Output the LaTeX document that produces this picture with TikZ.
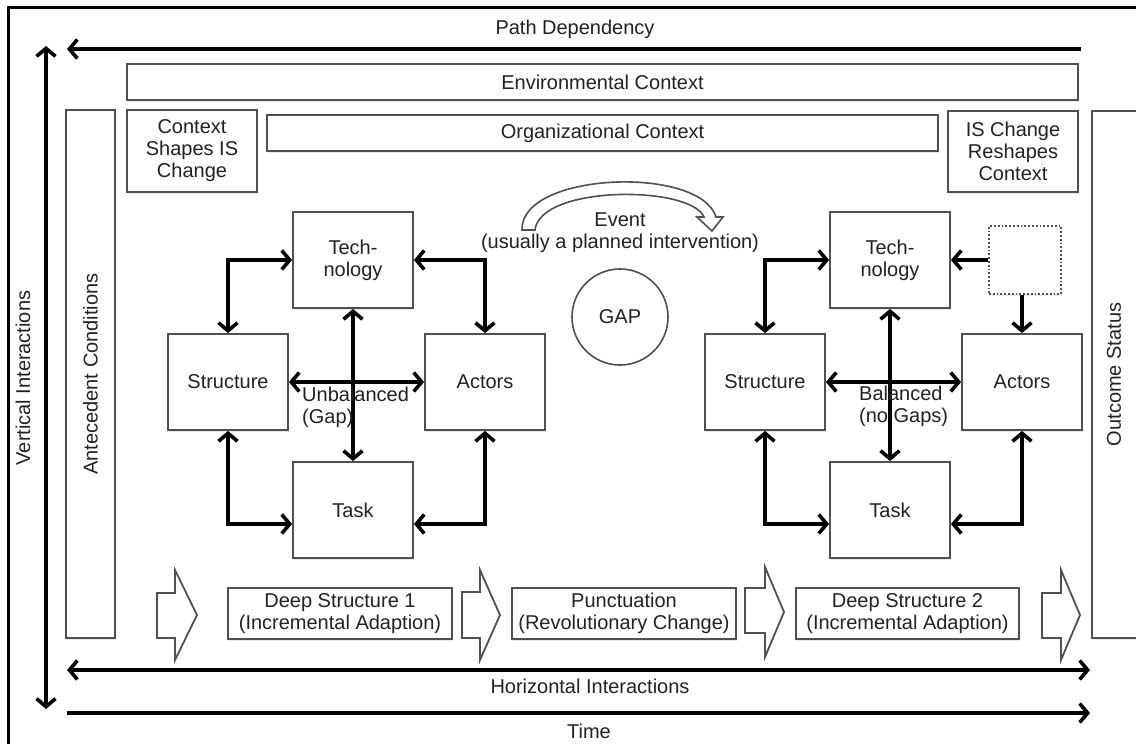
\documentclass[tikz,border=0pt]{standalone}
\usepackage{fontspec}
\setmainfont{Liberation Sans}
\usetikzlibrary{arrows.meta,shadows}
\definecolor{boxgray}{HTML}{505050}
\definecolor{txt}{HTML}{222222}
\begin{document}
\begin{tikzpicture}[x=1pt,y=-1pt,
  every node/.style={text=txt,font=\fontsize{20}{22}\selectfont},
  box/.style={draw=boxgray,line width=1.8pt,fill=white,inner sep=0pt,align=center,
     drop shadow={shadow xshift=1pt,shadow yshift=-1.5pt,opacity=0.18}},
  tip/.tip={Straight Barb[length=8pt,width=19pt]},
  conn/.style={line width=3.6pt,black,tip-tip},
  conn1/.style={line width=3.6pt,black,-tip},
  blockarrow/.style={draw=boxgray,line width=1.8pt,fill=white,line join=miter},
  lbl/.style={inner sep=0pt}]
\useasboundingbox (0,0) rectangle (1136,744);
\clip (0,0) rectangle (1136,744);
\fill[white] (0,0) rectangle (1136,744);
% frame
\draw[line width=3pt,black] (8,748) -- (8,7) -- (1140,7);

% outer arrows
\coordinate (pdR) at (1081,49);
\coordinate (pdL) at (67,49);
\draw[conn1] (pdR) -- (pdL);
\node[lbl] (pd) at (575,29) {Path Dependency};
\coordinate (viT) at (46,46);
\coordinate (viB) at (46,709);
\draw[conn] (viB) -- (viT);
\node[lbl,rotate=90] (vi) at (23,378) {Vertical Interactions};
\coordinate (hiL) at (67,670);
\coordinate (hiR) at (1090,670);
\draw[conn] (hiL) -- (hiR);
\node[lbl] (hi) at (590,686) {Horizontal Interactions};
\coordinate (tL) at (67,713);
\coordinate (tR) at (1090,713);
\draw[conn1] (tL) -- (tR);
\node[lbl] (time) at (589,731) {Time};

% context boxes
\node[box,minimum width=951pt,minimum height=36pt] (env) at (602.5,82) {Environmental Context};
\node[box,minimum width=671pt,minimum height=36pt] (org) at (602.5,133) {Organizational Context};
\node[box,minimum width=130pt,minimum height=82pt] (csc) at (192,151) {Context\\Shapes IS\\Change};
\node[box,minimum width=130pt,minimum height=81pt] (isc) at (1013,151.5) {IS Change\\Reshapes\\Context};
\node[box,minimum width=528pt,minimum height=49pt,rotate=90] (ant) at (90.5,374) {Antecedent Conditions};
\node[box,minimum width=527pt,minimum height=49pt,rotate=90,anchor=north] (out) at (1091,374.5) {};
\node[lbl,rotate=90] (outtxt) at (1114,374.5) {Outcome Status};

% left diagram
\node[box,minimum width=120pt,minimum height=96pt] (teL) at (353,260) {Tech-\\nology};
\node[box,minimum width=120pt,minimum height=96pt] (stL) at (228,382) {Structure};
\node[box,minimum width=120pt,minimum height=96pt] (acL) at (485,382) {Actors};
\node[box,minimum width=120pt,minimum height=96pt] (tkL) at (353,510) {Task};
\draw[conn] (stL.north) |- (teL.west);
\draw[conn] (teL.east) -| (acL.north);
\draw[conn] (stL.south) |- ([yshift=-14pt]tkL.west);
\draw[conn] ([yshift=-14pt]tkL.east) -| (acL.south);
\draw[conn] (teL.south) -- (tkL.north);
\draw[conn] (stL.east) -- (acL.west);
\node[lbl,align=left,anchor=north west] (unb) at (302,387) {Unbalanced\\(Gap)};

% right diagram
\node[box,minimum width=120pt,minimum height=96pt] (teR) at (890,260) {Tech-\\nology};
\node[box,minimum width=120pt,minimum height=96pt] (stR) at (765,382) {Structure};
\node[box,minimum width=120pt,minimum height=96pt] (acR) at (1022,382) {Actors};
\node[box,minimum width=120pt,minimum height=96pt] (tkR) at (890,510) {Task};
\node[box,dotted,minimum width=72pt,minimum height=68pt] (dot) at (1025,260) {};
\draw[conn] (stR.north) |- (teR.west);
\draw[conn1] (dot.west) -- (teR.east);
\draw[conn1] (dot.south -| acR.north) -- (acR.north);
\draw[conn] (stR.south) |- ([yshift=-14pt]tkR.west);
\draw[conn] ([yshift=-14pt]tkR.east) -| (acR.south);
\draw[conn] (teR.south) -- (tkR.north);
\draw[conn] (stR.east) -- (acR.west);
\node[lbl,align=left,anchor=north west] (bal) at (859,386) {Balanced\\(no Gaps)};

% event arrow and gap
\draw[draw=boxgray,line width=1.6pt,fill=white,line join=miter]
  (522,230) .. controls (520,172) and (700,165) .. (716,217) -- (723,217) -- (712,231)
  -- (697,217) -- (704,217) .. controls (690,185) and (540,185) .. (535,230) -- cycle;
\node[lbl,align=center] (ev) at (620,233) {Event\\(usually a planned intervention)};
\node[draw=boxgray,line width=1.6pt,circle,minimum size=96pt,inner sep=0pt] (gap) at (620,317) {GAP};

% bottom phase boxes and block arrows
\node[box,minimum width=224pt,minimum height=51pt] (ds1) at (340,613.5) {Deep Structure 1\\(Incremental Adaption)};
\node[box,minimum width=224pt,minimum height=51pt] (pun) at (624,613.5) {Punctuation\\(Revolutionary Change)};
\node[box,minimum width=223pt,minimum height=51pt] (ds2) at (907.5,613.5) {Deep Structure 2\\(Incremental Adaption)};
\draw[blockarrow] (157,593) -- (175,593) -- (175,570) -- (197,615) -- (175,660) -- (175,638) -- (157,638) -- cycle;
\draw[blockarrow] (462,592) -- (480,592) -- (480,570) -- (500,615) -- (480,660) -- (480,638) -- (462,638) -- cycle;
\draw[blockarrow] (745,588) -- (765,588) -- (765,567) -- (784,612) -- (765,657) -- (765,633) -- (745,633) -- cycle;
\draw[blockarrow] (1042,593) -- (1061,593) -- (1061,570) -- (1080,615) -- (1061,660) -- (1061,638) -- (1042,638) -- cycle;
\end{tikzpicture}
\end{document}
